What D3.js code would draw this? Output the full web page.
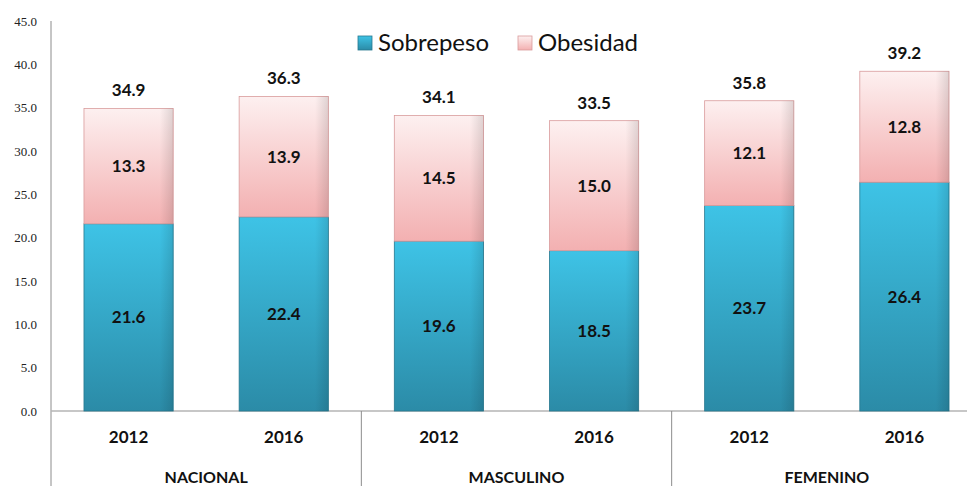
<!DOCTYPE html>
<html><head><meta charset="utf-8">
<script src="https://cdn.jsdelivr.net/npm/d3@7"></script>
<style>body{margin:0;background:#fff;overflow:hidden}svg{display:block}</style>
</head><body>
<script>
const groups = ["NACIONAL", "MASCULINO", "FEMENINO"];
const years = ["2012", "2016"];
const sobrepeso = [21.6, 22.4, 19.6, 18.5, 23.7, 26.4];
const obesidad = [13.3, 13.9, 14.5, 15.0, 12.1, 12.8];
const totals = [34.9, 36.3, 34.1, 33.5, 35.8, 39.2];
const yTicks = [0, 5, 10, 15, 20, 25, 30, 35, 40, 45];
const seriesNames = ["Sobrepeso", "Obesidad"];

const W = 967, H = 486;
const svg = d3.select("body").append("svg").attr("width", W).attr("height", H);
const defs = svg.append("defs");

const gB = defs.append("linearGradient").attr("id", "gBlue").attr("x1", 0).attr("y1", 0).attr("x2", 0).attr("y2", 1);
gB.append("stop").attr("offset", "0%").attr("stop-color", "#3ec3e6");
gB.append("stop").attr("offset", "100%").attr("stop-color", "#2b8ba7");
const gP = defs.append("linearGradient").attr("id", "gPink").attr("x1", 0).attr("y1", 0).attr("x2", 0).attr("y2", 1);
gP.append("stop").attr("offset", "0%").attr("stop-color", "#fdf0f0");
gP.append("stop").attr("offset", "100%").attr("stop-color", "#f3b0b1");
const gS = defs.append("linearGradient").attr("id", "gSide").attr("x1", 0).attr("y1", 0).attr("x2", 1).attr("y2", 0);
gS.append("stop").attr("offset", "0%").attr("stop-color", "#000").attr("stop-opacity", 0.0);
gS.append("stop").attr("offset", "85%").attr("stop-color", "#000").attr("stop-opacity", 0.0);
gS.append("stop").attr("offset", "100%").attr("stop-color", "#000").attr("stop-opacity", 0.12);

const x0 = 51, x1 = 982;
const keys = d3.range(6);
const x = d3.scaleBand().domain(keys).range([x0, x1]).paddingInner(0.425).paddingOuter(0.2125);
const y = d3.scaleLinear().domain([0, 45]).range([411, 21]);

// y tick labels
svg.append("g").selectAll("text").data(yTicks).join("text")
  .attr("x", 37).attr("y", d => y(d)).attr("dy", "0.35em").attr("text-anchor", "end")
  .attr("font-family", "Liberation Serif").attr("font-size", 13).attr("fill", "#222")
  .text(d => d.toFixed(1));

// axis lines
svg.append("line").attr("x1", x0).attr("x2", x0).attr("y1", y(45)).attr("y2", H).attr("stroke", "#8c8c8c").attr("stroke-width", 1);
svg.append("line").attr("x1", x0).attr("x2", W).attr("y1", y(0)).attr("y2", y(0)).attr("stroke", "#b5b5b5").attr("stroke-width", 1.3);
const groupW = (x1 - x0) / 3;
[1, 2].forEach(i => {
  svg.append("line").attr("x1", x0 + i * groupW).attr("x2", x0 + i * groupW).attr("y1", y(0)).attr("y2", H)
    .attr("stroke", "#8c8c8c").attr("stroke-width", 1);
});

// bars
const bars = svg.append("g");
keys.forEach(i => {
  const bx = x(i), bw = x.bandwidth();
  bars.append("rect").attr("x", bx).attr("y", y(sobrepeso[i])).attr("width", bw).attr("height", y(0) - y(sobrepeso[i]))
    .attr("fill", "url(#gBlue)").attr("stroke", "#26788f").attr("stroke-width", 0.8);
  bars.append("rect").attr("x", bx).attr("y", y(sobrepeso[i])).attr("width", bw).attr("height", y(0) - y(sobrepeso[i]))
    .attr("fill", "url(#gSide)");
  const top = sobrepeso[i] + obesidad[i];
  bars.append("rect").attr("x", bx).attr("y", y(top)).attr("width", bw).attr("height", y(sobrepeso[i]) - y(top))
    .attr("fill", "url(#gPink)").attr("stroke", "#d99b9c").attr("stroke-width", 0.8);
  bars.append("rect").attr("x", bx).attr("y", y(top)).attr("width", bw).attr("height", y(sobrepeso[i]) - y(top))
    .attr("fill", "url(#gSide)");
});

const lblFont = "Lato";
const labels = svg.append("g").attr("font-family", lblFont).attr("font-weight", "bold").attr("font-size", 17).attr("fill", "#111").attr("text-anchor", "middle");
keys.forEach(i => {
  const cx = x(i) + x.bandwidth() / 2;
  labels.append("text").attr("x", cx).attr("y", y(sobrepeso[i] / 2)).attr("dy", "0.35em").text(sobrepeso[i].toFixed(1));
  labels.append("text").attr("x", cx).attr("y", y(sobrepeso[i] + obesidad[i] / 2)).attr("dy", "0.35em").text(obesidad[i].toFixed(1));
  labels.append("text").attr("x", cx).attr("y", y(sobrepeso[i] + obesidad[i]) - 18).attr("dy", "0.35em").text(totals[i].toFixed(1));
});

const xl = svg.append("g").attr("font-family", lblFont).attr("font-weight", "bold").attr("fill", "#111").attr("text-anchor", "middle");
keys.forEach(i => {
  xl.append("text").attr("x", x(i) + x.bandwidth() / 2).attr("y", 437).attr("dy", "0.35em").attr("font-size", 17).text(years[i % 2]);
});
groups.forEach((g, j) => {
  xl.append("text").attr("x", x0 + (j + 0.5) * groupW).attr("y", 477).attr("dy", "0.35em").attr("font-size", 16).text(g);
});

const leg = svg.append("g").attr("font-family", lblFont).attr("font-size", 24).attr("fill", "#111");
const legX = [358, 518];
const legFill = ["url(#gBlue)", "url(#gPink)"];
seriesNames.forEach((s, k) => {
  leg.append("rect").attr("x", legX[k]).attr("y", 36).attr("width", 14).attr("height", 14).attr("fill", legFill[k])
    .attr("stroke", k === 0 ? "#26788f" : "#d99b9c").attr("stroke-width", 0.8);
  leg.append("text").attr("x", legX[k] + 20).attr("y", 43).attr("dy", "0.35em").text(s);
});
</script>
</body></html>
